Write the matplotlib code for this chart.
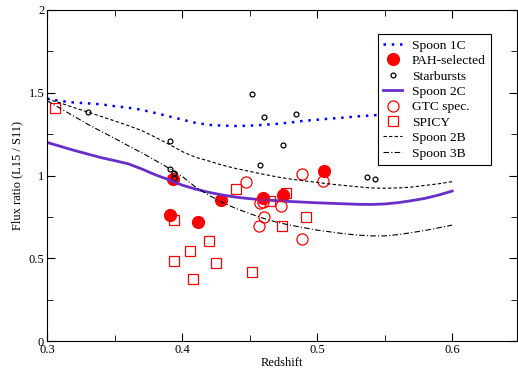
import matplotlib
matplotlib.use('Agg')
import matplotlib.pyplot as plt
from matplotlib.ticker import MultipleLocator

plt.rcParams['font.family'] = ['Liberation Serif', 'DejaVu Serif']

z_model = [0.30, 0.31, 0.32, 0.33, 0.34, 0.35, 0.36, 0.37, 0.38, 0.39,
           0.40, 0.41, 0.42, 0.43, 0.44, 0.45, 0.46, 0.47, 0.48, 0.49,
           0.50, 0.51, 0.52, 0.53, 0.54, 0.55, 0.56, 0.57, 0.58, 0.59, 0.60]
spoon_1c = [1.465, 1.450, 1.441, 1.436, 1.430, 1.419, 1.410, 1.397, 1.378, 1.358,
            1.338, 1.318, 1.306, 1.301, 1.299, 1.301, 1.306, 1.312, 1.320, 1.330,
            1.337, 1.344, 1.350, 1.357, 1.363, 1.368, 1.373, 1.378, 1.383, 1.388, 1.392]
spoon_2c = [1.200, 1.176, 1.152, 1.130, 1.108, 1.090, 1.071, 1.040, 1.005, 0.975,
            0.942, 0.918, 0.898, 0.882, 0.869, 0.860, 0.853, 0.848, 0.843, 0.839,
            0.835, 0.832, 0.829, 0.826, 0.825, 0.828, 0.836, 0.848, 0.862, 0.882, 0.906]
spoon_2b = [1.463, 1.438, 1.410, 1.384, 1.357, 1.330, 1.302, 1.272, 1.232, 1.190,
            1.145, 1.110, 1.087, 1.062, 1.042, 1.025, 1.008, 0.992, 0.979, 0.968,
            0.958, 0.948, 0.940, 0.932, 0.925, 0.923, 0.925, 0.930, 0.940, 0.950, 0.963]
spoon_3b = [1.452, 1.405, 1.358, 1.310, 1.267, 1.225, 1.180, 1.138, 1.092, 1.045,
            0.995, 0.930, 0.880, 0.837, 0.800, 0.770, 0.742, 0.718, 0.700, 0.685,
            0.670, 0.659, 0.648, 0.640, 0.635, 0.635, 0.643, 0.655, 0.668, 0.684, 0.700]

# PAH-selected
pah_z = [0.393, 0.391, 0.412, 0.429, 0.460, 0.475, 0.505]
pah_r = [0.979, 0.761, 0.717, 0.852, 0.862, 0.882, 1.029]

# starbursts
sb_z = [0.330, 0.391, 0.452, 0.461, 0.484, 0.475, 0.458, 0.391, 0.394, 0.394, 0.537, 0.543]
sb_r = [1.382, 1.210, 1.494, 1.351, 1.372, 1.184, 1.065, 1.039, 1.013, 0.985, 0.989, 0.977]

# GTC spectroscopy
gtc_z = [0.447, 0.489, 0.504, 0.458, 0.460, 0.473, 0.461, 0.457, 0.489]
gtc_r = [0.963, 1.007, 0.967, 0.832, 0.842, 0.816, 0.751, 0.695, 0.616]

# SPICY
spicy_z = [0.306, 0.394, 0.394, 0.406, 0.408, 0.420, 0.425, 0.440, 0.452, 0.465, 0.474, 0.477, 0.492]
spicy_r = [1.406, 0.731, 0.485, 0.546, 0.373, 0.606, 0.473, 0.918, 0.419, 0.848, 0.695, 0.896, 0.751]

fig = plt.figure(figsize=(5.18, 3.74), dpi=100)
ax = fig.add_axes([47/518, 33/374, 470/518, 331/374])

ax.plot(z_model, spoon_1c, color='blue', linestyle=(0, (1, 2.3)), linewidth=1.8, label='Spoon 1C')
ax.plot(pah_z, pah_r, 'o', color='red', markersize=8.5, linestyle='none', label='PAH-selected')
ax.plot(sb_z, sb_r, 'o', mfc='none', mec='black', markersize=3.5, mew=0.9, linestyle='none', label='Starbursts')
ax.plot(z_model, spoon_2c, color='#6a2ec8', linewidth=2, label='Spoon 2C')
ax.plot(gtc_z, gtc_r, 'o', mfc='none', mec='red', markersize=8, mew=0.9, linestyle='none', label='GTC spec.')
ax.plot(spicy_z, spicy_r, 's', mfc='none', mec='red', markersize=7, mew=0.9, linestyle='none', label='SPICY')
ax.plot(z_model, spoon_2b, color='black', linestyle=(0, (3, 2)), linewidth=0.8, label='Spoon 2B')
ax.plot(z_model, spoon_3b, color='black', linestyle=(0, (5, 2, 1, 2)), linewidth=0.8, label='Spoon 3B')

ax.set_xlim(0.3, 0.648)
ax.set_ylim(0, 2)
ax.xaxis.set_major_locator(MultipleLocator(0.1))
ax.xaxis.set_minor_locator(MultipleLocator(0.05))
ax.yaxis.set_minor_locator(MultipleLocator(0.25))
ax.set_yticks([0, 0.5, 1, 1.5, 2])
ax.set_yticklabels(['0', '0.5', '1', '1.5', '2'])
ax.tick_params(which='both', direction='in', top=True, right=True, labelsize=9, pad=2)
ax.tick_params(which='major', length=6)
ax.tick_params(which='minor', length=4)

ax.set_xlabel('Redshift', fontsize=9, labelpad=1)
ax.set_ylabel('Flux ratio (L15 / S11)', fontsize=9, labelpad=4)

leg = ax.legend(loc='upper right', bbox_to_anchor=(0.9447, 0.9275), fontsize=9.7,
                frameon=True, fancybox=False, edgecolor='black', framealpha=1,
                handlelength=1.4, handletextpad=0.7, labelspacing=0.22, borderpad=0.4,
                borderaxespad=0)
leg.get_frame().set_linewidth(0.8)

fig.savefig('out.png', dpi=100)
